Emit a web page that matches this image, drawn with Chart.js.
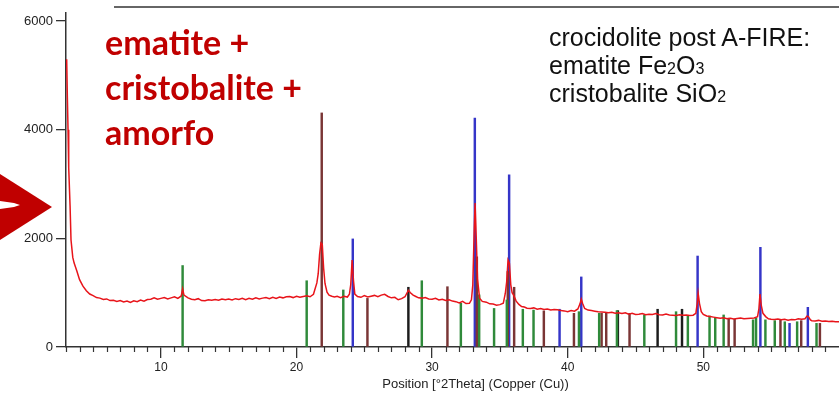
<!DOCTYPE html>
<html>
<head>
<meta charset="utf-8">
<script src="https://cdn.jsdelivr.net/npm/chart.js@4.4.0/dist/chart.umd.min.js"></script>
<style>
  html, body { margin: 0; padding: 0; background: #fff; }
  #page { position: relative; width: 839px; height: 398px; overflow: hidden; }
  #plot { position: absolute; left: 0; top: 0; width: 885px; height: 398px; }
  #topline { position: absolute; left: 114px; top: 6px; width: 725px; height: 2px; background: #666; }
  #phases {
    position: absolute; left: 105px; top: 19px;
    font-family: Lato, "Open Sans", sans-serif; font-weight: bold;
    font-size: 34px; line-height: 45px; color: #c00000;
  }
  #legend {
    position: absolute; left: 549px; top: 23px;
    font-family: "Liberation Sans", Arial, sans-serif;
    font-size: 25px; line-height: 28px; color: #111;
  }
  #legend span { font-size: 16px; line-height: 0; }
  #arrow { position: absolute; left: 0; top: 170px; }
</style>
</head>
<body>
<div id="page">
  <div id="topline"></div>
  <div id="plot"><canvas id="xrd"></canvas></div>
  <div id="phases">ematite +<br>cristobalite +<br>amorfo</div>
  <div id="legend">crocidolite post A-FIRE:<br>ematite Fe<span>2</span>O<span>3</span><br>cristobalite SiO<span>2</span></div>
  <svg id="arrow" width="60" height="80">
    <polygon points="0,4 52,37 0,70" fill="#c00000"/>
    <polygon points="0,31 14,33 20,35 14,37 0,39" fill="#fff"/>
  </svg>
</div>
<script>
'use strict';

// measured scan, counts vs 2theta
const twoTheta = [
  3.05, 3.1, 3.15, 3.2, 3.3, 3.37, 3.5, 3.6, 3.8, 4.0,
  4.25, 4.5, 4.75, 5.0, 5.25, 5.5, 5.75, 6.0, 6.25, 6.5,
  6.75, 7.0, 7.25, 7.5, 7.75, 8.0, 8.25, 8.5, 8.75, 9.0,
  9.25, 9.5, 9.75, 10.0, 10.25, 10.5, 10.75, 11.0, 11.25, 11.5,
  11.6, 11.7, 12.0, 12.25, 12.5, 12.75, 13.0, 13.25, 13.5, 13.75,
  14.0, 14.25, 14.5, 14.75, 15.0, 15.25, 15.5, 15.75, 16.0, 16.25,
  16.5, 16.75, 17.0, 17.25, 17.5, 17.75, 18.0, 18.25, 18.5, 18.75,
  19.0, 19.25, 19.5, 19.75, 20.0, 20.25, 20.5, 20.75, 21.0, 21.25,
  21.5, 21.6, 21.7, 21.8, 21.9, 22.0, 22.1, 22.25, 22.4, 22.6,
  22.8, 23.0, 23.25, 23.5, 23.75, 23.9, 24.0, 24.1, 24.2, 24.3,
  24.5, 24.75, 25.0, 25.25, 25.5, 25.75, 26.0, 26.25, 26.5, 26.75,
  27.0, 27.25, 27.5, 27.75, 28.0, 28.25, 28.4, 28.6, 28.8, 29.0,
  29.25, 29.5, 29.75, 30.0, 30.25, 30.5, 30.75, 31.0, 31.25, 31.5,
  31.75, 32.0, 32.25, 32.5, 32.75, 32.9, 33.0, 33.1, 33.17, 33.25,
  33.35, 33.5, 33.7, 34.0, 34.25, 34.5, 34.75, 35.0, 35.25, 35.4,
  35.5, 35.6, 35.7, 35.8, 35.9, 36.0, 36.2, 36.4, 36.6, 36.8,
  37.0, 37.25, 37.5, 37.75, 38.0, 38.25, 38.5, 38.75, 39.0, 39.25,
  39.5, 39.75, 40.0, 40.25, 40.5, 40.75, 40.9, 41.0, 41.1, 41.25,
  41.5, 41.75, 42.0, 42.25, 42.5, 42.75, 43.0, 43.25, 43.5, 43.75,
  44.0, 44.25, 44.5, 44.75, 45.0, 45.25, 45.5, 45.75, 46.0, 46.25,
  46.5, 46.75, 47.0, 47.25, 47.5, 47.75, 48.0, 48.25, 48.5, 48.75,
  49.0, 49.25, 49.45, 49.55, 49.62, 49.72, 49.85, 50.0, 50.25, 50.5,
  50.75, 51.0, 51.25, 51.5, 51.75, 52.0, 52.25, 52.5, 52.75, 53.0,
  53.25, 53.5, 53.75, 54.0, 54.1, 54.18, 54.28, 54.4, 54.6, 54.8,
  55.0, 55.25, 55.5, 55.75, 56.0, 56.25, 56.5, 56.75, 57.0, 57.25,
  57.5, 57.65, 57.75, 57.9, 58.0, 58.25, 58.5, 58.75, 59.0, 59.25,
  59.5, 59.75, 60.0, 60.5, 61.0, 61.5, 62.0, 62.5, 63.0, 63.5
];
const counts = [
  5300, 4600, 4000, 3300, 2600, 1970, 1650, 1545, 1400, 1240,
  1120, 1035, 975, 945, 910, 900, 875, 885, 855, 860,
  840, 855, 830, 845, 820, 850, 835, 865, 845, 875,
  880, 905, 880, 895, 910, 885, 905, 925, 895, 940,
  1070, 955, 905, 880, 870, 890, 855, 850, 870, 860,
  875, 860, 885, 870, 885, 865, 890, 875, 895, 870,
  895, 880, 905, 885, 900, 910, 890, 915, 895, 920,
  905, 925, 930, 910, 935, 915, 930, 945, 925, 970,
  1180, 1350, 1700, 1915, 1890, 1450, 1170, 1010, 955, 935,
  920, 935, 910, 935, 920, 970, 1150, 1600, 1230, 975,
  930, 915, 945, 920, 935, 950, 925, 955, 970, 930,
  905, 915, 870, 890, 925, 1045, 1000, 955, 930, 905,
  900, 910, 885, 880, 895, 865, 880, 855, 870, 845,
  835, 810, 840, 800, 805, 870, 1140, 2100, 2650, 2050,
  1250, 900, 840, 825, 795, 790, 770, 780, 805, 990,
  1200, 1600, 1540, 1150, 1000, 960, 845, 785, 745, 735,
  715, 710, 720, 695, 710, 690, 700, 680, 690, 685,
  670, 665, 650, 670, 660, 700, 790, 880, 800, 710,
  680, 670, 660, 650, 645, 640, 630, 640, 620, 630,
  615, 630, 605, 620, 600, 605, 615, 595, 605, 600,
  615, 595, 590, 605, 590, 585, 580, 595, 585, 590,
  580, 585, 620, 800, 990, 800, 650, 600, 570, 560,
  550, 540, 530, 540, 520, 530, 515, 525, 535, 520,
  525, 530, 535, 560, 700, 975, 760, 620, 560, 520,
  510, 505, 515, 500, 510, 495, 505, 500, 520, 510,
  520, 570, 560, 500, 485, 480, 490, 475, 480, 470,
  475, 465, 465, 460, 455, 455, 450, 445, 445, 440
];

// reference pattern sticks
const greenPos = [11.6, 20.75, 23.45, 29.24, 32.12, 33.47, 34.57, 35.51, 36.69, 37.48, 40.83, 42.32, 43.63,
  45.65, 47.99, 48.86, 50.46, 50.88, 51.5, 53.67, 53.89, 54.58, 55.27, 56.01, 56.92, 58.35];
const greenHeight = [1500, 1220, 1050, 1220, 805, 960, 710, 865, 695, 680, 650, 620, 670,
  590, 650, 580, 570, 545, 590, 500, 530, 500, 485, 465, 465, 435];
const bluePos = [24.15, 33.15, 35.68, 39.4, 41.0, 49.58, 54.21, 56.36, 57.71];
const blueHeight = [1990, 4215, 3170, 695, 1290, 1675, 1835, 435, 730];
const brownPos = [21.86, 25.23, 31.13, 33.3, 35.58, 36.05, 38.24, 40.46, 42.5, 42.84, 44.56, 51.87, 52.31, 55.69, 57.22, 58.6];
const brownHeight = [4310, 895, 1110, 1660, 1390, 1100, 665, 620, 620, 620, 620, 530, 510, 510, 485, 435];
const blackPos = [28.25, 43.7, 46.63, 48.43];
const blackHeight = [1100, 670, 695, 695];

const xTicks = [10, 20, 30, 40, 50];
const yTicks = [0, 2000, 4000, 6000];

Chart.defaults.font.family = '"Liberation Sans", Arial, sans-serif';
Chart.defaults.color = '#222';

function pairs(xs, ys) {
  return xs.map((x, i) => ({x: x, y: ys[i]}));
}

function sticks(xs, ys, color) {
  return {
    type: 'bar',
    data: pairs(xs, ys),
    backgroundColor: color,
    borderWidth: 0,
    barThickness: 1.8,
    grouped: false,
    order: 2
  };
}

// small 1 degree ticks under the x axis
const minorTicks = {
  id: 'minorTicks',
  afterDraw(chart) {
    const sx = chart.scales.x;
    const ctx = chart.ctx;
    const y0 = chart.chartArea.bottom;
    ctx.save();
    ctx.strokeStyle = '#333';
    ctx.lineWidth = 1.2;
    for (let v = Math.ceil(sx.min); v <= sx.max; v++) {
      if (v % 10 === 0) continue;
      const px = Math.round(sx.getPixelForValue(v)) + 0.5;
      ctx.beginPath();
      ctx.moveTo(px, y0);
      ctx.lineTo(px, y0 + 5);
      ctx.stroke();
    }
    ctx.restore();
  }
};

new Chart(document.getElementById('xrd'), {
  type: 'line',
  data: {
    datasets: [
      {
        type: 'line',
        data: pairs(twoTheta, counts),
        borderColor: '#e8141a',
        borderWidth: 1.5,
        pointRadius: 0,
        tension: 0,
        order: 1
      },
      sticks(greenPos, greenHeight, '#2f8a3a'),
      sticks(brownPos, brownHeight, '#7a3535'),
      sticks(blackPos, blackHeight, '#1c1c1c'),
      sticks(bluePos, blueHeight, '#3535c8')
    ]
  },
  options: {
    responsive: true,
    maintainAspectRatio: false,
    animation: false,
    layout: {padding: {top: 13, left: 0, right: 0, bottom: 0}},
    plugins: {legend: {display: false}, tooltip: {enabled: false}},
    scales: {
      x: {
        type: 'linear',
        min: 3,
        max: 63.4,
        offset: false,
        border: {display: true, color: '#333', width: 1.5},
        grid: {offset: false, drawOnChartArea: false, drawTicks: true, tickLength: 11, color: '#333', lineWidth: 1.3},
        ticks: {font: {size: 12}, padding: 2, maxRotation: 0, autoSkip: false},
        afterBuildTicks: s => { s.ticks = xTicks.map(v => ({value: v})); },
        afterFit: s => { s.height = 51; },
        title: {
          display: true,
          text: 'Position [°2Theta] (Copper (Cu))',
          font: {size: 13},
          padding: {top: 0, bottom: 6}
        }
      },
      y: {
        min: 0,
        max: 6150,
        border: {display: true, color: '#333', width: 1.5},
        grid: {drawOnChartArea: false, drawTicks: true, tickLength: 10, color: '#333', lineWidth: 1.3},
        ticks: {font: {size: 13}, padding: 3, callback: v => String(v)},
        afterBuildTicks: s => { s.ticks = yTicks.map(v => ({value: v})); },
        afterFit: s => { s.width = 66; }
      }
    }
  },
  plugins: [minorTicks]
});
</script>
</body>
</html>
